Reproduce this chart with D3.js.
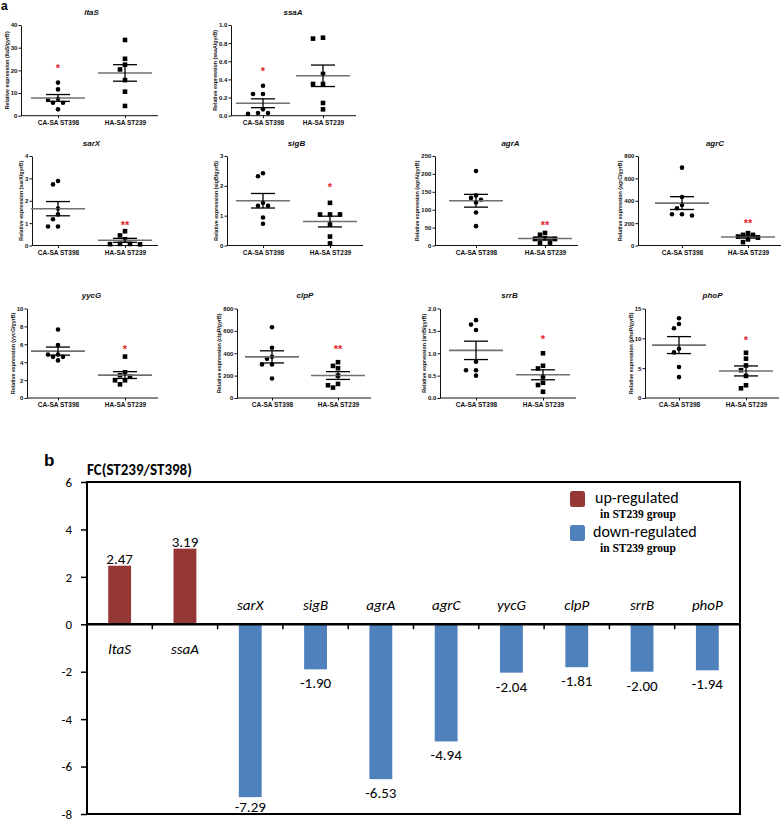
<!DOCTYPE html>
<html><head><meta charset="utf-8">
<script src="https://cdn.jsdelivr.net/npm/d3@7/dist/d3.min.js"></script>
<style>body{margin:0;background:#fff}svg{display:block}</style>
</head><body>
<svg id="c" width="784" height="824"></svg>
<script>
// ---------- data ----------
const genes = ["ltaS","ssaA","sarX","sigB","agrA","agrC","yycG","clpP","srrB","phoP"];
const groups = ["CA-SA ST398","HA-SA ST239"];
const caValues = [
  [14.6,11.6,7.5,6.9,5.7,5.7,2.8],
  [0.33,0.24,0.24,0.07,0.03,0.02,0.03],
  [2.88,2.73,1.65,1.39,1.17,0.85,0.85],
  [2.42,2.32,1.43,1.33,1.33,0.94,0.73],
  [208,140,133,128,120,92,54],
  [696,434,363,333,280,280,268],
  [7.65,5.93,4.85,4.85,4.6,4.6,4.2],
  [632,449,368,350,300,300,174],
  [1.74,1.64,1.52,0.81,0.62,0.62,0.5],
  [13.37,12.4,11.7,8.26,7.64,5.2,3.5]
];
const haValues = [
  [33.4,25.1,22.5,20.4,15.7,10.6,4.3],
  [0.86,0.85,0.46,0.35,0.35,0.14,0.07],
  [0.64,0.45,0.28,0.07,0.07,0.06,0.05],
  [1.43,1.04,1.04,1.04,0.7,0.3,0.07],
  [35,30,20,18,18,8,8],
  [110,95,95,80,70,55,30],
  [4.63,2.87,2.54,2.4,1.98,1.98,1.53],
  [320,287,266,200,126,114,93],
  [1.0,0.72,0.66,0.48,0.34,0.29,0.14],
  [7.58,6.6,5.45,4.66,3.7,2.13,1.63]
];
const yMax = [40,1,4,3,250,800,10,800,2,15];
const yStep = [10,0.2,1,1,50,200,2,200,0.5,5];
const yDecimals = [0,1,0,0,0,0,0,0,1,0];
const sigLabels = ["*","*","**","*","**","**","*","**","*","*"];
const sigGroup = [0,0,1,1,1,1,1,1,1,1];
const sigValue = [22,0.52,1.05,2.05,65,220,5.75,460,1.37,10.2];

const fcValues = [2.47,3.19,-7.29,-1.90,-6.53,-4.94,-2.04,-1.81,-2.00,-1.94];
const fcLabels = ["2.47","3.19","-7.29","-1.90","-6.53","-4.94","-2.04","-1.81","-2.00","-1.94"];
const fcTicks = [6,4,2,0,-2,-4,-6,-8];
const legendItems = ["up-regulated","down-regulated"];
const legendSub = "in ST239 group";
const fcTitle = "FC(ST239/ST398)";

// ---------- layout ----------
const svg = d3.select("#c");
const SANS = "'Liberation Sans', Arial, sans-serif";
const layout = [
  {ax:21, ca:58, ha:125, top:25, zero:115.7, ty:15},
  {ax:231, ca:263, ha:323, top:25, zero:115.7, ty:15},
  {ax:32, ca:58, ha:125, top:156, zero:245.5, ty:146},
  {ax:227, ca:263, ha:330, top:156, zero:245.5, ty:146},
  {ax:435, ca:476, ha:545, top:156, zero:245.5, ty:146},
  {ax:638, ca:682, ha:748, top:156, zero:245.5, ty:146},
  {ax:27, ca:58, ha:125, top:308.5, zero:398, ty:298},
  {ax:237, ca:272, ha:338, top:308.5, zero:398, ty:298},
  {ax:440, ca:476, ha:543, top:308.5, zero:398, ty:298},
  {ax:645, ca:679, ha:746, top:308.5, zero:398, ty:298}
];

svg.append("text").attr("x",1).attr("y",10).attr("font-family",SANS)
  .attr("font-weight","bold").attr("font-size",12).text("a");

function swarm(vals, y, cx){
  const idx = vals.map((v,i)=>i).sort((a,b)=>vals[b]-vals[a]);
  const placed = [];
  const res = new Array(vals.length);
  const s = 5, d = 5.2;
  const offs = [0];
  for (let k=1;k<8;k++){ offs.push(-k*s, k*s); }
  idx.forEach(i=>{
    const py = y(vals[i]);
    let ox = 0;
    for (const o of offs){
      if (placed.every(p => Math.hypot(p[0]-o, p[1]-py) >= d)){ ox = o; break; }
    }
    placed.push([ox, py]);
    res[i] = [cx+ox, py];
  });
  return res;
}

genes.forEach((g,i)=>{
  const L = layout[i];
  const gp = svg.append("g");
  const y = d3.scaleLinear().domain([0,yMax[i]]).range([L.zero, L.top]);
  const x = d3.scalePoint().domain(groups).range([L.ca, L.ha]);
  const ticks = d3.range(0, yMax[i] + yStep[i]/2, yStep[i]);
  const fmt = d3.format("." + yDecimals[i] + "f");
  const ya = gp.append("g").attr("transform",`translate(${L.ax},0)`)
    .call(d3.axisLeft(y).tickValues(ticks).tickSize(2.5).tickPadding(1.2).tickSizeOuter(0).tickFormat(fmt));
  ya.selectAll("text").attr("font-family",SANS).attr("font-weight","bold").attr("font-size",6).attr("fill","#111");
  ya.selectAll("line,path").attr("stroke","#111").attr("stroke-width",1);
  const bb = ya.node().getBBox();
  const xa = gp.append("g").attr("transform",`translate(0,${L.zero})`)
    .call(d3.axisBottom(x).tickSize(2.5).tickPadding(2).tickSizeOuter(0));
  xa.select(".domain").remove();
  xa.selectAll("line").attr("stroke","#111");
  xa.selectAll("text").attr("font-family",SANS).attr("font-weight","bold").attr("font-size",6.5).attr("fill","#111");
  gp.append("line").attr("x1",L.ax).attr("x2",L.ha+33).attr("y1",L.zero).attr("y2",L.zero)
    .attr("stroke","#111").attr("stroke-width",1);
  gp.append("text").attr("transform",`translate(${L.ax+bb.x-2},${(L.top+L.zero)/2}) rotate(-90)`)
    .attr("text-anchor","middle").attr("font-family",SANS).attr("font-weight","bold").attr("font-size",5.3)
    .attr("fill","#111").text(`Relative expression (${g}/gyrB)`);
  gp.append("text").attr("x",(L.ca+L.ha)/2).attr("y",L.ty).attr("text-anchor","middle")
    .attr("font-family",SANS).attr("font-weight","bold").attr("font-style","italic").attr("font-size",8)
    .attr("fill","#111").text(g);
  [caValues[i], haValues[i]].forEach((vals,k)=>{
    const cx = x(groups[k]);
    const pts = swarm(vals, y, cx);
    if (k===0){
      gp.selectAll(null).data(pts).enter().append("circle")
        .attr("cx",p=>p[0]).attr("cy",p=>p[1]).attr("r",2.3).attr("fill","#000");
    } else {
      gp.selectAll(null).data(pts).enter().append("rect")
        .attr("x",p=>p[0]-2.3).attr("y",p=>p[1]-2.3).attr("width",4.6).attr("height",4.6).attr("fill","#000");
    }
    const m = d3.mean(vals), se = d3.deviation(vals)/Math.sqrt(vals.length);
    gp.append("line").attr("x1",cx-27).attr("x2",cx+27).attr("y1",y(m)).attr("y2",y(m))
      .attr("stroke","#707070").attr("stroke-width",1.6);
    [m+se, m-se].forEach(v=>{
      gp.append("line").attr("x1",cx-12).attr("x2",cx+12).attr("y1",y(v)).attr("y2",y(v))
        .attr("stroke","#000").attr("stroke-width",1.3);
    });
    gp.append("line").attr("x1",cx).attr("x2",cx).attr("y1",y(m+se)).attr("y2",y(m-se))
      .attr("stroke","#000").attr("stroke-width",1.3);
  });
  gp.append("text").attr("x",x(groups[sigGroup[i]])).attr("y",y(sigValue[i])+6.5)
    .attr("text-anchor","middle").attr("font-family",SANS).attr("font-weight","bold").attr("font-size",11)
    .attr("fill","#e3262b").text(sigLabels[i]);
});

// ---------- panel b ----------
const bx0 = 87, bx1 = 740, by0 = 482, by1 = 814;
const bx = d3.scaleBand().domain(genes).range([bx0,bx1]).paddingInner(0.65).paddingOuter(0.325);
const by = d3.scaleLinear().domain([-8,6]).range([by1, by0]);
const FB = "Carlito, 'Liberation Sans', Arial, sans-serif";

svg.append("text").attr("x",44).attr("y",466).attr("font-family",SANS).attr("font-weight","bold")
  .attr("font-size",17).text("b");
svg.append("text").attr("x",bx0).attr("y",475).attr("font-family",FB).attr("font-weight","bold")
  .attr("font-size",15).text(fcTitle);

const gb = svg.append("g");
gb.selectAll("rect.bar").data(genes).enter().append("rect").attr("class","bar")
  .attr("x",g=>bx(g)).attr("width",bx.bandwidth())
  .attr("y",(g,i)=>by(Math.max(0,fcValues[i])))
  .attr("height",(g,i)=>Math.abs(by(fcValues[i])-by(0)))
  .attr("fill",(g,i)=>fcValues[i]>0?"#953735":"#4f81bd");

gb.append("rect").attr("x",bx0).attr("y",by0).attr("width",bx1-bx0).attr("height",by1-by0)
  .attr("fill","none").attr("stroke","#000").attr("stroke-width",2);
const yb = gb.append("g").attr("transform",`translate(${bx0},0)`)
  .call(d3.axisLeft(by).tickValues(fcTicks).tickSize(6).tickPadding(9).tickSizeOuter(0).tickFormat(d=>String(d)));
yb.select(".domain").remove();
yb.selectAll("line").attr("stroke","#000").attr("stroke-width",1.5);
yb.selectAll("text").attr("font-family",FB).attr("font-size",13).attr("fill","#000");

gb.append("line").attr("x1",bx0).attr("x2",bx1).attr("y1",by(0)).attr("y2",by(0))
  .attr("stroke","#000").attr("stroke-width",2.6);
const step = bx.step();
gb.selectAll("line.zt").data(genes.slice(1)).enter().append("line").attr("class","zt")
  .attr("x1",g=>bx(g)-step*bx.paddingInner()/2).attr("x2",g=>bx(g)-step*bx.paddingInner()/2)
  .attr("y1",by(0)).attr("y2",by(0)+5).attr("stroke","#000").attr("stroke-width",1.5);

gb.selectAll("text.cat").data(genes).enter().append("text").attr("class","cat")
  .attr("x",g=>bx(g)+bx.bandwidth()/2)
  .attr("y",(g,i)=>fcValues[i]<0?by(0)-14:by(0)+30)
  .attr("text-anchor","middle").attr("font-family",FB).attr("font-style","italic").attr("font-size",15)
  .text(g=>g);
gb.selectAll("text.val").data(genes).enter().append("text").attr("class","val")
  .attr("x",g=>bx(g)+bx.bandwidth()/2)
  .attr("y",(g,i)=>fcValues[i]>0?by(fcValues[i])-2:Math.min(by(fcValues[i])+19,812))
  .attr("text-anchor","middle").attr("font-family",FB).attr("font-size",15)
  .text((g,i)=>fcLabels[i]);

const lg = svg.append("g");
const legY = [491, 525];
const legCol = ["#953735","#4f81bd"];
legendItems.forEach((t,k)=>{
  lg.append("rect").attr("x",570).attr("y",legY[k]).attr("width",15).attr("height",16).attr("rx",2.5)
    .attr("fill",legCol[k]);
  lg.append("text").attr("x",k===0?595:593).attr("y",legY[k]+12).attr("font-family",FB).attr("font-size",16)
    .text(t);
  lg.append("text").attr("x",600).attr("y",legY[k]+27).attr("font-family","'Liberation Serif','Times New Roman',serif")
    .attr("font-weight","bold").attr("font-size",11.5).text(legendSub);
});
</script>
</body></html>
